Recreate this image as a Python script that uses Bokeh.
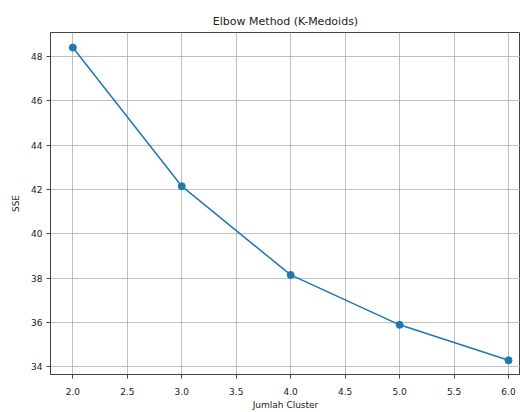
from bokeh.plotting import figure
from bokeh.embed import file_html
from bokeh.resources import INLINE
from bokeh.models import Range1d, SingleIntervalTicker, NumeralTickFormatter

# Data
jumlah_cluster = [2, 3, 4, 5, 6]
sse = [48.4, 42.15, 38.15, 35.9, 34.3]

FONT = "DejaVu Sans"
BLUE = "#1f77b4"

p = figure(width=520, height=412, output_backend="svg", toolbar_location=None,
           x_range=Range1d(1.795, 6.11), y_range=Range1d(33.66, 49.08),
           min_border_left=50, min_border_right=0, min_border_top=32, min_border_bottom=37,
           title="Elbow Method (K-Medoids)")

p.title.align = "center"
p.title.text_font = FONT
p.title.text_font_size = "11px"
p.title.text_font_style = "normal"
p.title.text_color = "#222222"

p.line(jumlah_cluster, sse, line_color=BLUE, line_width=1.5)
p.scatter(jumlah_cluster, sse, size=7, fill_color=BLUE, line_color=BLUE)

p.xaxis.ticker = SingleIntervalTicker(interval=0.5)
p.xaxis.formatter = NumeralTickFormatter(format="0.0")
p.yaxis.ticker = SingleIntervalTicker(interval=2)

p.xaxis.axis_label = "Jumlah Cluster"
p.yaxis.axis_label = "SSE"

for ax in (p.xaxis[0], p.yaxis[0]):
    ax.axis_label_text_font = FONT
    ax.axis_label_text_font_size = "9px"
    ax.axis_label_text_font_style = "normal"
    ax.axis_label_text_color = "#222222"
    ax.major_label_text_font = FONT
    ax.major_label_text_font_size = "9px"
    ax.major_label_text_color = "#222222"
    ax.axis_line_color = "#444444"
    ax.axis_line_width = 1
    ax.major_tick_line_color = "#444444"
    ax.major_tick_out = 4
    ax.major_tick_in = 0
    ax.minor_tick_line_color = None

p.xaxis.major_label_standoff = 9
p.yaxis.major_label_standoff = 4
p.yaxis.axis_label_standoff = 7
p.xaxis.axis_label_standoff = 2

p.xgrid.grid_line_color = "#b0b0b0"
p.ygrid.grid_line_color = "#b0b0b0"
p.xgrid.grid_line_width = 0.8
p.ygrid.grid_line_width = 0.8

p.outline_line_color = "#444444"
p.outline_line_width = 1

open("out.html", "w").write(file_html(p, INLINE))
